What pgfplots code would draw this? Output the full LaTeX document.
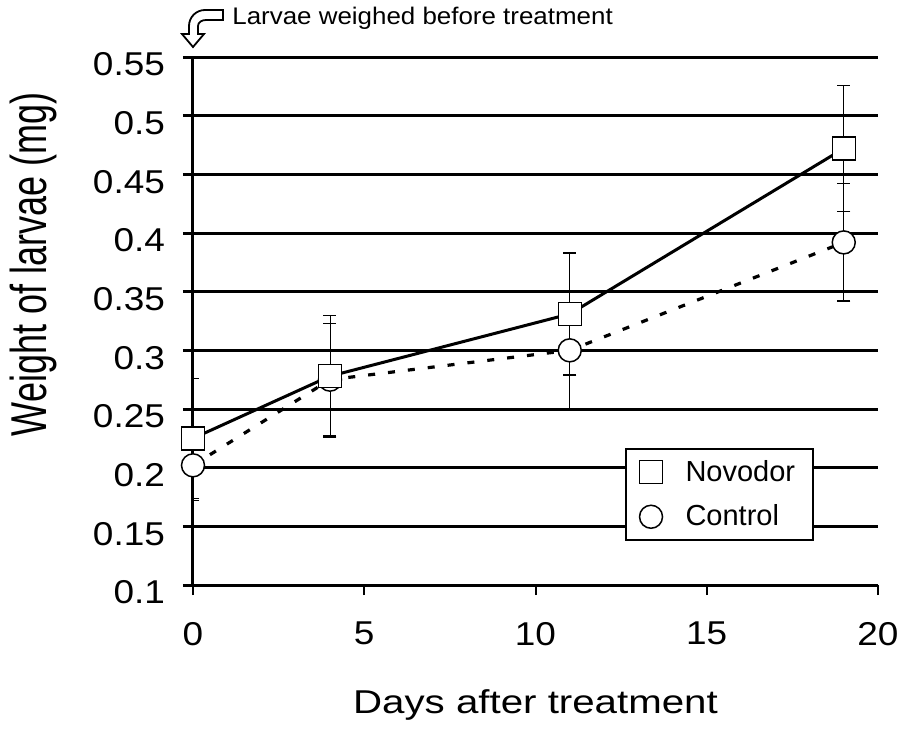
\documentclass[border=0pt]{standalone}
\usepackage{pgfplots}
\pgfplotsset{compat=1.18}
\usepackage{pgfplotstable}
\usepackage{graphicx}
\usepackage{fontspec}
\setmainfont{Liberation Sans}
\newfontfamily\tickfont[FakeStretch=1.12]{Liberation Sans}
\newfontfamily\xlabfont[FakeStretch=1.22]{Liberation Sans}
\newfontfamily\notefont[FakeStretch=1.08]{Liberation Sans}

\pgfplotstableread{
day nov novE con conE
0 0.225 0.051 0.202 0.030
4 0.278 0.052 0.275 0.048
11 0.331 0.052 0.300 0.050
19 0.472 0.054 0.392 0.050
}\data

\begin{document}
\begin{tikzpicture}
\useasboundingbox (-96.5pt,-72pt) rectangle (358.5pt,292.5pt);
\begin{axis}[
  at={(0,0)}, anchor=south west,
  scale only axis, width=342.5pt, height=264pt,
  xmin=0, xmax=20, ymin=0.1, ymax=0.55,
  axis x line*=bottom, axis y line*=left,
  axis line style={line width=1.5pt, -},
  xtick={0,5,10,15,20}, xticklabels={0,5,10,15,20},
  ytick={0.1,0.15,0.2,0.25,0.3,0.35,0.4,0.45,0.5,0.55},
  yticklabels={0.1,0.15,0.2,0.25,0.3,0.35,0.4,0.45,0.5,0.55},
  /pgf/number format/assume math mode=true,
  tick align=outside, major tick length=5pt,
  xtick style={line width=1pt, black},
  ytick style={line width=1.5pt, black},
  ymajorgrids, grid style={line width=1.5pt, black},
  ticklabel style={font=\tickfont\fontsize{16.5}{19}\selectfont},
  yticklabel style={anchor=east, xshift=-5.5pt, yshift=-3.75pt},
  xticklabel style={anchor=north, yshift=-10pt},
  xlabel={\xlabfont\fontsize{16.5}{18}\selectfont Days after treatment},
  xlabel style={at={(rel axis cs:0.5,0)}, anchor=base, yshift=-64pt},
  ylabel={\scalebox{1}[1.4]{Weight of larvae (mg)}},
  ylabel style={at={(rel axis cs:0,0.607)}, anchor=base, yshift=73pt, font=\fontsize{18}{20}\selectfont},
  reverse legend,
  legend style={at={(0.6307,0.2598)}, anchor=north west, draw=black, line width=1pt, fill=white,
    font=\fontsize{14.5}{16}\selectfont, inner xsep=6.75pt, inner ysep=3.65pt, row sep=6.3pt,
    column sep=9.5pt, nodes={inner sep=2pt}},
  legend cell align=left,
  legend image code/.code={\draw[#1] plot coordinates {(0pt,0pt)};},
]
% error bars
\addplot[black, line width=0.6pt, only marks, mark=none, forget plot,
  error bars/.cd, y dir=both, y explicit,
  error mark options={rotate=90, mark size=3.25pt, line width=0.6pt, black}]
  table[x=day, y=con, y error=conE]{\data};
\addplot[black, line width=0.6pt, only marks, mark=none, forget plot,
  error bars/.cd, y dir=both, y explicit,
  error mark options={rotate=90, mark size=3.25pt, line width=0.6pt, black}]
  table[x=day, y=nov, y error=novE]{\data};
% lines
\addplot[black, line width=1.6pt, dash pattern=on 3.5pt off 6.5pt, forget plot] table[x=day, y=con]{\data};
\addplot[black, line width=1.5pt, forget plot] table[x=day, y=nov]{\data};
% markers
\addplot[only marks, mark=*, mark size=5.75pt, mark options={fill=white, draw=black, line width=0.75pt}]
  table[x=day, y=con]{\data};
\addlegendentry{Control}
\addplot[only marks, mark=square*, mark size=5.75pt, mark options={fill=white, draw=black, line width=0.75pt}]
  table[x=day, y=nov]{\data};
\addlegendentry{Novodor}
\end{axis}
% annotation arrow and text
\draw[line width=0.9pt, fill=white, line join=miter]
  (0pt,269pt) -- (5.5pt,275.5pt) -- (2.5pt,275.5pt) -- (2.5pt,279.5pt)
  to[out=90,in=180] (6.5pt,282.5pt) -- (15pt,282.5pt) -- (15pt,287.5pt) -- (6pt,287.5pt)
  to[out=180,in=90] (-2pt,279.5pt) -- (-2pt,275.5pt) -- (-5.5pt,275.5pt) -- cycle;
\node[anchor=base west, inner sep=0pt, font=\notefont\fontsize{12}{14}\selectfont] at (19.5pt,280pt) {Larvae weighed before treatment};
\end{tikzpicture}
\end{document}
